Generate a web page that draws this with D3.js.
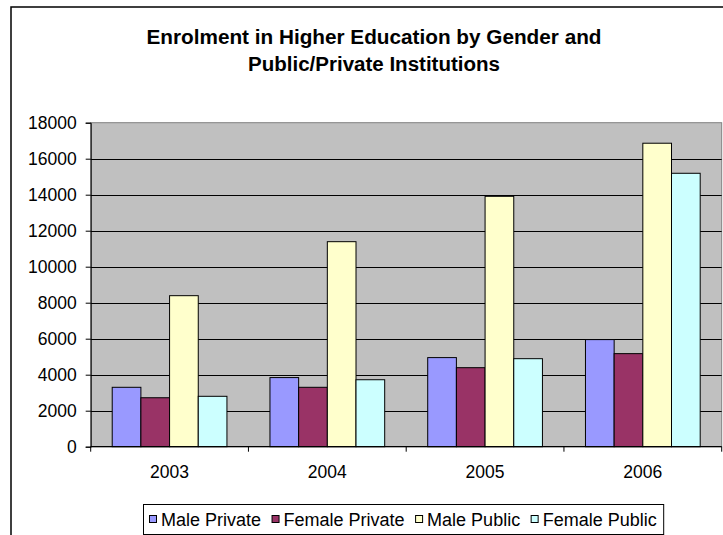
<!DOCTYPE html>
<html>
<head>
<meta charset="utf-8">
<script src="https://cdn.jsdelivr.net/npm/d3@7/dist/d3.min.js"></script>
<style>
  html, body { margin: 0; padding: 0; background: #ffffff; }
  svg { display: block; }
  text { font-family: "Liberation Sans", Arial, sans-serif; fill: #000; }
</style>
</head>
<body>
<svg id="chart" width="723" height="535"></svg>
<script>
// Enrolment figures by year and group
const years = ["2003", "2004", "2005", "2006"];
const seriesNames = ["Male Private", "Female Private", "Male Public", "Female Public"];
const malePrivate = [3300, 3840, 4950, 5950];
const femalePrivate = [2720, 3300, 4390, 5170];
const malePublic = [8390, 11390, 13910, 16860];
const femalePublic = [2800, 3720, 4890, 15190];
const yTicks = [0, 2000, 4000, 6000, 8000, 10000, 12000, 14000, 16000, 18000];
const titleLines = ["Enrolment in Higher Education by Gender and", "Public/Private Institutions"];

const seriesValues = [malePrivate, femalePrivate, malePublic, femalePublic];
const colors = ["#9999FF", "#993366", "#FFFFCC", "#CCFFFF"];

const svg = d3.select("#chart");

// Chart area border
svg.append("rect")
  .attr("x", 11).attr("y", 7)
  .attr("width", 800).attr("height", 600)
  .attr("fill", "#fff").attr("stroke", "#000").attr("stroke-width", 1.5);

// Title (slightly stretched bold face)
const titleWidths = [455, 252];
svg.append("g").selectAll("text")
  .data(titleLines)
  .join("text")
  .attr("x", 374)
  .attr("y", (d, i) => 44 + i * 27)
  .attr("text-anchor", "middle")
  .attr("font-size", "19.5px")
  .attr("font-weight", "bold")
  .attr("textLength", (d, i) => titleWidths[i])
  .attr("lengthAdjust", "spacingAndGlyphs")
  .text(d => d);

// Plot area geometry
const plot = { left: 90.7, right: 721.7, top: 122.7, bottom: 446.7 };

const x = d3.scaleBand().domain(years).range([plot.left, plot.right]).padding(0);
const y = d3.scaleLinear().domain([0, 18000]).range([plot.bottom, plot.top]);

// Bars inside each category: four bars, gap of 150% of bar width
const barW = x.bandwidth() / (4 + 1.5);
const xs = d3.scaleBand().domain(seriesNames)
  .range([barW * 0.75, barW * 0.75 + barW * 4]).padding(0);

// Plot background
svg.append("rect")
  .attr("x", plot.left).attr("y", plot.top)
  .attr("width", plot.right - plot.left).attr("height", plot.bottom - plot.top)
  .attr("fill", "#C0C0C0").attr("stroke", "#808080").attr("stroke-width", 1);

// Gridlines
svg.append("g").selectAll("line")
  .data(yTicks.filter(t => t > 0 && t < 18000))
  .join("line")
  .attr("x1", plot.left).attr("x2", plot.right)
  .attr("y1", d => Math.round(y(d)) + 0.5).attr("y2", d => Math.round(y(d)) + 0.5)
  .attr("stroke", "#000").attr("stroke-width", 1);

// Bars
const groups = svg.append("g").selectAll("g")
  .data(years)
  .join("g")
  .attr("transform", d => `translate(${x(d)},0)`);

groups.selectAll("rect")
  .data((yr, i) => seriesNames.map((s, k) => ({ s, k, v: seriesValues[k][i] })))
  .join("rect")
  .attr("x", d => xs(d.s))
  .attr("y", d => y(d.v))
  .attr("width", xs.bandwidth())
  .attr("height", d => y(0) - y(d.v))
  .attr("fill", d => colors[d.k])
  .attr("stroke", "#000").attr("stroke-width", 1);

// Y axis
const yAxis = d3.axisLeft(y).tickValues(yTicks).tickSize(5).tickPadding(9).tickFormat(d3.format("d"));
const gy = svg.append("g").attr("transform", `translate(${plot.left},0)`).call(yAxis);
gy.select(".domain").attr("stroke", "#000");
gy.selectAll(".tick line").attr("stroke", "#000");
gy.selectAll(".tick text")
  .attr("font-size", "17.5px")
  .attr("font-family", "Liberation Sans, Arial, sans-serif")
  .attr("fill", "#000");

// X axis: ticks at category boundaries
const gx = svg.append("g").attr("transform", `translate(0,${plot.bottom})`);
gx.append("line")
  .attr("x1", plot.left).attr("x2", plot.right)
  .attr("y1", 0).attr("y2", 0)
  .attr("stroke", "#000").attr("stroke-width", 1.2);
gx.selectAll("line.tk")
  .data(years.map(d => x(d)).concat([plot.right]))
  .join("line").attr("class", "tk")
  .attr("x1", d => d).attr("x2", d => d)
  .attr("y1", 0).attr("y2", 5)
  .attr("stroke", "#000");
gx.selectAll("text")
  .data(years)
  .join("text")
  .attr("x", d => x(d) + x.bandwidth() / 2)
  .attr("y", 31)
  .attr("text-anchor", "middle")
  .attr("font-size", "17.5px")
  .text(d => d);

// Legend
const legend = svg.append("g");
const lgBox = legend.append("rect")
  .attr("x", 143.5).attr("y", 504.5)
  .attr("height", 30)
  .attr("fill", "#fff").attr("stroke", "#000").attr("stroke-width", 1);

let cx = 149.5;
seriesNames.forEach((name, k) => {
  legend.append("rect")
    .attr("x", cx).attr("y", 515.5)
    .attr("width", 7).attr("height", 7)
    .attr("fill", colors[k]).attr("stroke", "#000").attr("stroke-width", 1);
  const t = legend.append("text")
    .attr("x", cx + 11.5).attr("y", 525.5)
    .attr("font-size", "18px")
    .text(name);
  cx += 11.5 + t.node().getComputedTextLength() + 11;
});
lgBox.attr("width", cx - 143.5 - 4);
</script>
</body>
</html>
